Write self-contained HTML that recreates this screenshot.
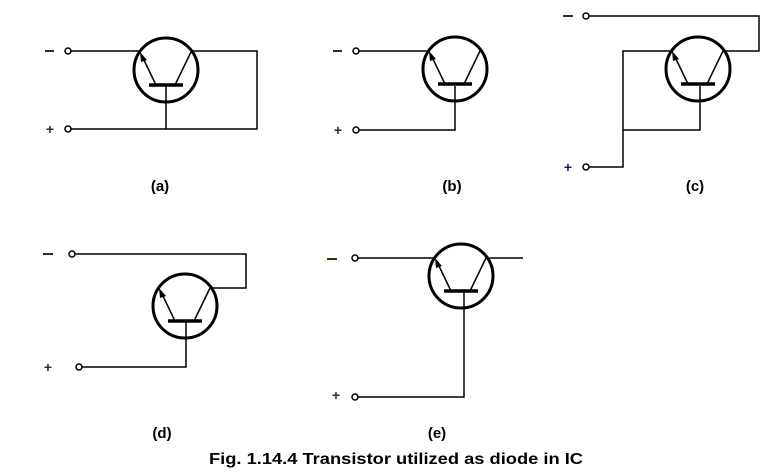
<!DOCTYPE html>
<html><head><meta charset="utf-8"><style>
html,body{margin:0;padding:0;background:#fff;}
svg{display:block;}
text{font-family:"Liberation Sans",Arial,sans-serif;font-weight:bold;}
</style></head><body>
<svg width="784" height="476" viewBox="0 0 784 476" xmlns="http://www.w3.org/2000/svg">
<defs>
<g id="t">
<circle cx="0" cy="0" r="32" fill="none" stroke="#000" stroke-width="3"/>
<line x1="-17" y1="15" x2="17" y2="15" stroke="#000" stroke-width="3.5"/>
<line x1="-10" y1="15" x2="-23" y2="-12" stroke="#000" stroke-width="1.5"/>
<polygon points="-26,-18 -19,-10 -25,-8" fill="#000"/>
<line x1="9" y1="15" x2="25" y2="-18" stroke="#000" stroke-width="1.5"/>
</g>
</defs>
<g fill="none" stroke="#000" stroke-width="1.5">
<polyline points="71,51 141,51"/>
<polyline points="191,51 257,51 257,129 71,129"/>
<line x1="166" y1="86" x2="166" y2="129"/>
<polyline points="359,51 429,51"/>
<polyline points="455,86 455,130 359,130"/>
<polyline points="589,16 759,16 759,51 723,51"/>
<polyline points="673,51 623,51 623,167 589,167"/>
<polyline points="700,86 700,130 623,130"/>
<polyline points="75,254 246,254 246,288 210,288"/>
<polyline points="186,322 186,367 82,367"/>
<polyline points="358,258 435,258"/>
<polyline points="486,258 523,258"/>
<polyline points="464,292 464,397 358,397"/>
</g>
<use href="#t" x="166" y="70"/>
<use href="#t" x="455" y="69"/>
<use href="#t" x="698" y="69"/>
<use href="#t" x="185" y="306"/>
<use href="#t" x="461" y="276"/>
<g fill="#fff" stroke="#000" stroke-width="1.5">
<circle cx="68" cy="51" r="3"/><circle cx="68" cy="129" r="3"/>
<circle cx="356" cy="51" r="3"/><circle cx="356" cy="130" r="3"/>
<circle cx="586" cy="16" r="3"/><circle cx="586" cy="167" r="3"/>
<circle cx="72" cy="254" r="3"/><circle cx="79" cy="367" r="3"/>
<circle cx="355" cy="258" r="3"/><circle cx="355" cy="397" r="3"/>
</g>
<g stroke="#3a2a10" stroke-width="2">
<line x1="45" y1="51" x2="54" y2="51"/>
<line x1="333" y1="51" x2="342" y2="51"/>
<line x1="563" y1="16" x2="573" y2="16"/>
<line x1="43" y1="254" x2="53" y2="254"/>
<line x1="327" y1="259" x2="337" y2="259"/>
</g>
<g font-size="14" fill="#3a2a10" text-anchor="middle">
<text x="50" y="134">+</text>
<text x="338" y="135">+</text>
<text x="568" y="172" fill="#1a1a5a">+</text>
<text x="48" y="372">+</text>
<text x="336" y="400">+</text>
</g>
<g font-size="15" fill="#000" text-anchor="middle">
<text x="160" y="191">(a)</text>
<text x="452" y="191">(b)</text>
<text x="695" y="191">(c)</text>
<text x="162" y="438">(d)</text>
<text x="437" y="438">(e)</text>
</g>
<text x="209" y="464" font-size="16" fill="#000" textLength="374" lengthAdjust="spacingAndGlyphs">Fig. 1.14.4 Transistor utilized as diode in IC</text>
</svg>
</body></html>
